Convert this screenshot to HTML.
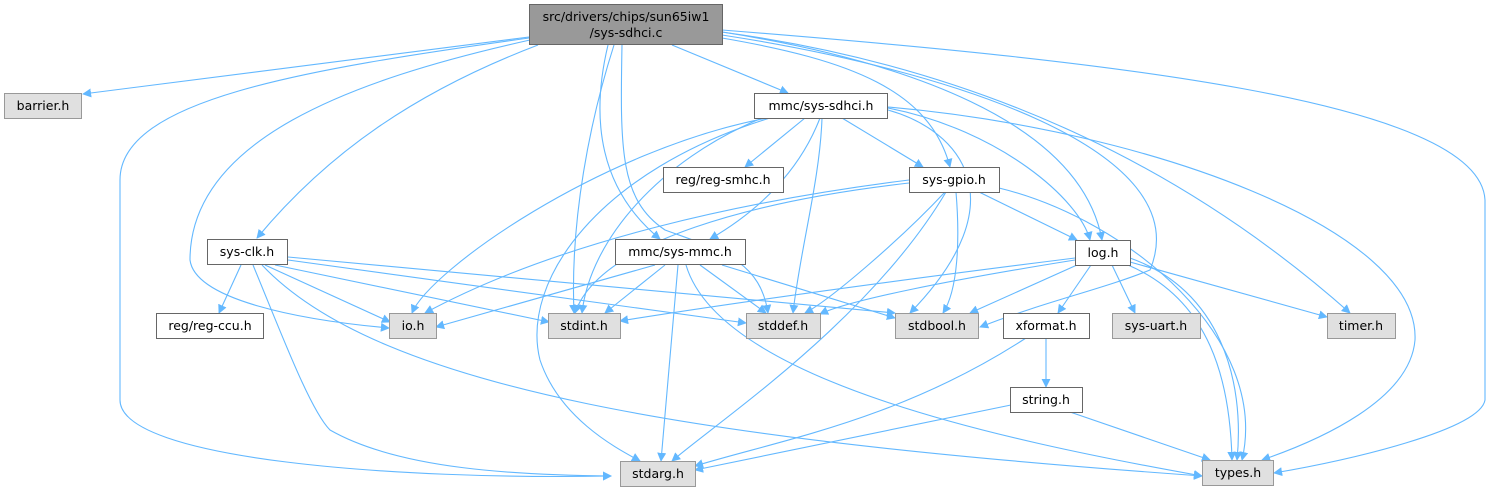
<!DOCTYPE html>
<html><head><meta charset="utf-8"><style>
html,body{margin:0;padding:0;background:#fff;}
svg{display:block;}
text{font-family:"DejaVu Sans","Liberation Sans",sans-serif;font-size:12.5px;fill:#000;}
.e{fill:none;stroke:#63b8ff;stroke-width:1.1;}
.w{fill:#fff;stroke:#666;stroke-width:1;}
.g{fill:#e0e0e0;stroke:#999;stroke-width:1;}
</style></head><body>
<svg width="1489" height="491" viewBox="0 0 1489 491" xmlns="http://www.w3.org/2000/svg">
<defs><marker id="a" viewBox="0 0 10 10" refX="9" refY="5" markerWidth="9" markerHeight="9" orient="auto" markerUnits="userSpaceOnUse"><path d="M0,0 L10,5 L0,10 z" fill="#63b8ff"/></marker></defs>
<g marker-end="url(#a)">
<!-- root edges -->
<path class="e" d="M529,37 L83,94"/>
<path class="e" d="M529,38 C300,70 120,100 120,180 L120,400 C120,460 400,480 611,476"/>
<path class="e" d="M530,40 C350,80 190,140 190,260 C195,300 300,320 389,328"/>
<path class="e" d="M538,45 C420,90 330,150 257,238"/>
<path class="e" d="M614,45 C590,120 570,220 574,313"/>
<path class="e" d="M608,45 C590,120 600,190 660,239"/>
<path class="e" d="M622,45 C620,150 620,200 665,230 C720,250 760,260 768,313"/>
<path class="e" d="M672,45 L788,93"/>
<path class="e" d="M722,38 C850,60 930,90 950,167"/>
<path class="e" d="M722,32 C900,60 1080,120 1102,240"/>
<path class="e" d="M722,35 C950,70 1200,150 1150,270 C1100,290 1050,300 980,327"/>
<path class="e" d="M722,32 C1000,70 1200,180 1350,313"/>
<path class="e" d="M722,30 C1100,60 1480,100 1485,200 L1485,400 C1480,430 1350,460 1274,473"/>
<!-- sys-sdhci -->
<path class="e" d="M767,118 C600,150 430,270 412,313"/>
<path class="e" d="M770,118 C600,170 520,280 540,360 C560,420 620,450 640,461"/>
<path class="e" d="M762,118 C660,160 590,240 582,313"/>
<path class="e" d="M805,118 L745,167"/>
<path class="e" d="M820,118 C800,170 760,210 710,239"/>
<path class="e" d="M822,118 C820,180 800,250 793,313"/>
<path class="e" d="M842,118 L923,167"/>
<path class="e" d="M888,110 C960,130 1020,200 910,313"/>
<path class="e" d="M888,108 C1000,130 1080,200 1090,240"/>
<path class="e" d="M888,107 C1150,130 1420,230 1415,340 C1410,400 1320,440 1262,460"/>
<!-- sys-gpio -->
<path class="e" d="M909,180 C750,200 560,240 425,313"/>
<path class="e" d="M909,183 C760,200 600,240 575,313"/>
<path class="e" d="M945,192 C900,240 830,300 805,313"/>
<path class="e" d="M946,192 C870,320 720,420 672,461"/>
<path class="e" d="M956,192 C960,240 958,290 943,313"/>
<path class="e" d="M979,192 L1077,240"/>
<path class="e" d="M999,188 C1130,220 1270,340 1242,460"/>
<!-- sys-clk -->
<path class="e" d="M241,265 L219,313"/>
<path class="e" d="M265,265 L390,322"/>
<path class="e" d="M275,265 L549,322"/>
<path class="e" d="M288,260 L746,323"/>
<path class="e" d="M288,257 L895,313"/>
<path class="e" d="M253,265 C280,330 310,410 330,430 C400,470 520,475 611,476"/>
<path class="e" d="M262,265 C380,390 700,440 1202,476"/>
<!-- mmc -->
<path class="e" d="M655,265 L436,327"/>
<path class="e" d="M665,265 L605,313"/>
<path class="e" d="M700,265 L766,313"/>
<path class="e" d="M722,265 L895,318"/>
<path class="e" d="M678,265 L661,461"/>
<path class="e" d="M686,265 C720,380 1000,440 1202,476"/>
<!-- log -->
<path class="e" d="M1075,258 C900,280 750,300 620,321"/>
<path class="e" d="M1075,260 C950,280 850,300 820,314"/>
<path class="e" d="M1077,265 L970,313"/>
<path class="e" d="M1091,265 L1058,313"/>
<path class="e" d="M1112,265 L1135,313"/>
<path class="e" d="M1130,262 L1327,317"/>
<path class="e" d="M1130,258 C1220,290 1245,380 1237,460"/>
<path class="e" d="M1128,265 C1210,300 1230,380 1232,460"/>
<!-- xformat / string -->
<path class="e" d="M1046,338 L1046,387"/>
<path class="e" d="M1026,338 C900,420 780,440 695,466"/>
<path class="e" d="M1011,405 L695,470"/>
<path class="e" d="M1070,412 L1210,460"/>
</g>
<!-- nodes -->
<rect x="529.5" y="4.5" width="193" height="40" fill="#999" stroke="#666"/>
<text x="626" y="21" text-anchor="middle">src/drivers/chips/sun65iw1</text>
<text x="626" y="37" text-anchor="middle">/sys-sdhci.c</text>
<rect class="g" x="4.5" y="93.5" width="77" height="25"/><text x="43" y="110" text-anchor="middle">barrier.h</text>
<rect class="w" x="754.5" y="93.5" width="133" height="25"/><text x="821" y="110" text-anchor="middle">mmc/sys-sdhci.h</text>
<rect class="w" x="663.5" y="167.5" width="120" height="25"/><text x="723" y="184" text-anchor="middle">reg/reg-smhc.h</text>
<rect class="w" x="909.5" y="167.5" width="90" height="25"/><text x="954" y="184" text-anchor="middle">sys-gpio.h</text>
<rect class="w" x="207.5" y="239.5" width="80" height="25"/><text x="247" y="256" text-anchor="middle">sys-clk.h</text>
<rect class="w" x="615.5" y="239.5" width="130" height="25"/><text x="680" y="256" text-anchor="middle">mmc/sys-mmc.h</text>
<rect class="w" x="1075.5" y="240.5" width="55" height="25"/><text x="1103" y="257" text-anchor="middle">log.h</text>
<rect class="w" x="156.5" y="313.5" width="107" height="25"/><text x="210" y="330" text-anchor="middle">reg/reg-ccu.h</text>
<rect class="g" x="389.5" y="313.5" width="47" height="25"/><text x="413" y="330" text-anchor="middle">io.h</text>
<rect class="g" x="548.5" y="313.5" width="72" height="25"/><text x="584" y="330" text-anchor="middle">stdint.h</text>
<rect class="g" x="746.5" y="313.5" width="74" height="25"/><text x="783" y="330" text-anchor="middle">stddef.h</text>
<rect class="g" x="895.5" y="313.5" width="83" height="25"/><text x="937" y="330" text-anchor="middle">stdbool.h</text>
<rect class="w" x="1003.5" y="313.5" width="86" height="25"/><text x="1046" y="330" text-anchor="middle">xformat.h</text>
<rect class="g" x="1112.5" y="313.5" width="88" height="25"/><text x="1156" y="330" text-anchor="middle">sys-uart.h</text>
<rect class="g" x="1327.5" y="313.5" width="68" height="25"/><text x="1361" y="330" text-anchor="middle">timer.h</text>
<rect class="w" x="1010.5" y="387.5" width="72" height="25"/><text x="1046" y="404" text-anchor="middle">string.h</text>
<rect class="g" x="620.5" y="461.5" width="75" height="25"/><text x="658" y="478" text-anchor="middle">stdarg.h</text>
<rect class="g" x="1202.5" y="460.5" width="71" height="25"/><text x="1238" y="477" text-anchor="middle">types.h</text>
</svg>
</body></html>
